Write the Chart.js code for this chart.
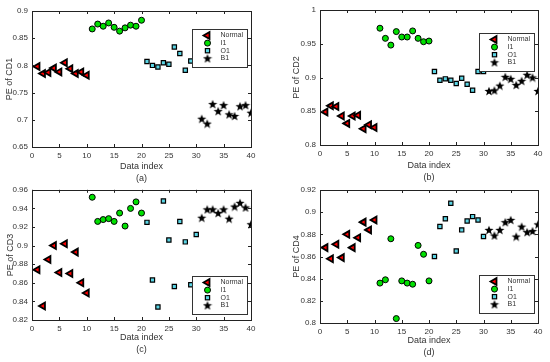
<!DOCTYPE html>
<html>
<head>
<meta charset="utf-8">
<script src="https://cdn.jsdelivr.net/npm/chart.js@4/dist/chart.umd.min.js"></script>
<style>
  body { margin: 0; background: #fff; }
  #wrap { position: relative; width: 550px; height: 362px; overflow: hidden; }
  .panel { position: absolute; }
</style>
</head>
<body>
<div id="wrap">
  <div class="panel" style="left:0;top:0"><canvas id="c1" width="275" height="186"></canvas></div>
  <div class="panel" style="left:275px;top:0"><canvas id="c2" width="275" height="186"></canvas></div>
  <div class="panel" style="left:0;top:181px"><canvas id="c3" width="275" height="181"></canvas></div>
  <div class="panel" style="left:275px;top:181px"><canvas id="c4" width="275" height="181"></canvas></div>
</div>
<script>
// data index for each class
const idxNormal = [1, 2, 3, 4, 5, 6, 7, 8, 9, 10];
const idxI1 = [11, 12, 13, 14, 15, 16, 17, 18, 19, 20];
const idxO1 = [21, 22, 23, 24, 25, 26, 27, 28, 29, 30];
const idxB1 = [31, 32, 33, 34, 35, 36, 37, 38, 39, 40];

const seriesNames = ['Normal', 'I1', 'O1', 'B1'];
const xTicks = [0, 5, 10, 15, 20, 25, 30, 35, 40];

// PE of CD1
const cd1Normal = [0.798, 0.785, 0.787, 0.795, 0.788, 0.805, 0.794, 0.785, 0.788, 0.782];
const cd1I1 = [0.867, 0.876, 0.872, 0.878, 0.870, 0.863, 0.869, 0.874, 0.872, 0.883];
const cd1O1 = [0.807, 0.800, 0.797, 0.805, 0.802, 0.834, 0.822, 0.791, 0.808, 0.810];
const cd1B1 = [0.702, 0.693, 0.729, 0.716, 0.727, 0.710, 0.707, 0.725, 0.727, 0.713];
const cd1Ticks = [0.65, 0.7, 0.75, 0.8, 0.85, 0.9];

// PE of CD2
const cd2Normal = [0.849, 0.858, 0.857, 0.843, 0.832, 0.843, 0.844, 0.824, 0.830, 0.826];
const cd2I1 = [0.973, 0.958, 0.948, 0.968, 0.960, 0.960, 0.969, 0.958, 0.953, 0.954];
const cd2O1 = [0.909, 0.896, 0.898, 0.896, 0.891, 0.899, 0.890, 0.881, 0.909, 0.909];
const cd2B1 = [0.880, 0.881, 0.888, 0.901, 0.898, 0.889, 0.895, 0.904, 0.900, 0.880];
const cd2Ticks = [0.8, 0.85, 0.9, 0.95, 1];

// PE of CD3
const cd3Normal = [0.874, 0.835, 0.885, 0.900, 0.871, 0.902, 0.870, 0.893, 0.860, 0.849];
const cd3I1 = [0.952, 0.926, 0.928, 0.929, 0.926, 0.935, 0.921, 0.940, 0.947, 0.935];
const cd3O1 = [0.925, 0.863, 0.834, 0.948, 0.906, 0.856, 0.926, 0.904, 0.858, 0.912];
const cd3B1 = [0.930, 0.939, 0.939, 0.935, 0.939, 0.929, 0.942, 0.946, 0.941, 0.923];
const cd3Ticks = [0.82, 0.84, 0.86, 0.88, 0.9, 0.92, 0.94, 0.96];

// PE of CD4
const cd4Normal = [0.868, 0.858, 0.871, 0.859, 0.880, 0.868, 0.877, 0.891, 0.884, 0.893];
const cd4I1 = [0.836, 0.839, 0.876, 0.804, 0.838, 0.836, 0.835, 0.870, 0.862, 0.838];
const cd4O1 = [0.860, 0.887, 0.894, 0.908, 0.865, 0.884, 0.892, 0.896, 0.893, 0.878];
const cd4B1 = [0.884, 0.879, 0.884, 0.891, 0.893, 0.878, 0.887, 0.882, 0.883, 0.889];
const cd4Ticks = [0.8, 0.82, 0.84, 0.86, 0.88, 0.9, 0.92];

const FONT = 'Arial, "Liberation Sans", sans-serif';
const TXT = '#333';

function pts(xs, ys) {
  return xs.map((x, i) => ({ x: x, y: ys[i] }));
}

// filled black star, chart.js only has an outline star
function starImage(size) {
  const c = document.createElement('canvas');
  c.width = size; c.height = size;
  const g = c.getContext('2d');
  const cx = size / 2, cy = size / 2 + 0.5;
  const R = size / 2 - 0.2, r = R * 0.42;
  g.beginPath();
  for (let i = 0; i < 10; i++) {
    const rad = i % 2 === 0 ? R : r;
    const a = -Math.PI / 2 + i * Math.PI / 5;
    const px = cx + Math.cos(a) * rad, py = cy + Math.sin(a) * rad;
    if (i === 0) g.moveTo(px, py); else g.lineTo(px, py);
  }
  g.closePath();
  g.fillStyle = '#000';
  g.fill();
  return c;
}
const star = starImage(10);

const markers = [
  { style: 'triangle', rot: -90, r: 4, bw: 1.8, fill: '#ff0000' },
  { style: 'circle', rot: 0, r: 3, bw: 1, fill: '#00e000' },
  { style: 'rect', rot: 0, r: 3, bw: 1.2, fill: '#5ad4e4' },
  { style: star, rot: 0, r: 5, bw: 1, fill: '#000' }
];

function drawMarker(ctx, m, x, y) {
  ctx.save();
  ctx.fillStyle = m.fill;
  ctx.strokeStyle = '#000';
  ctx.lineWidth = m.bw;
  if (m.style === 'triangle') {
    ctx.beginPath();
    ctx.moveTo(x - m.r, y);
    ctx.lineTo(x + m.r * 0.5, y - m.r * 0.87);
    ctx.lineTo(x + m.r * 0.5, y + m.r * 0.87);
    ctx.closePath();
    ctx.fill(); ctx.stroke();
  } else if (m.style === 'circle') {
    ctx.beginPath();
    ctx.arc(x, y, m.r, 0, Math.PI * 2);
    ctx.fill(); ctx.stroke();
  } else if (m.style === 'rect') {
    const s = m.r * Math.SQRT1_2;
    ctx.fillRect(x - s, y - s, 2 * s, 2 * s);
    ctx.strokeRect(x - s, y - s, 2 * s, 2 * s);
  } else {
    ctx.drawImage(m.style, x - m.style.width / 2, y - m.style.height / 2);
  }
  ctx.restore();
}

// matlab style box, inward ticks, legend inside the axes
const boxPlugin = {
  id: 'box',
  afterDatasetsDraw(chart, args, opts) {
    const { ctx, chartArea: a, scales } = chart;
    ctx.save();
    ctx.strokeStyle = '#222';
    ctx.lineWidth = 1;
    ctx.beginPath();
    scales.x.ticks.forEach(t => {
      const px = Math.round(scales.x.getPixelForValue(t.value)) + 0.5;
      ctx.moveTo(px, a.bottom); ctx.lineTo(px, a.bottom - 3);
      ctx.moveTo(px, a.top); ctx.lineTo(px, a.top + 3);
    });
    scales.y.ticks.forEach(t => {
      const py = Math.round(scales.y.getPixelForValue(t.value)) + 0.5;
      ctx.moveTo(a.left, py); ctx.lineTo(a.left + 3, py);
      ctx.moveTo(a.right, py); ctx.lineTo(a.right - 3, py);
    });
    ctx.stroke();
    ctx.strokeRect(Math.round(a.left) + 0.5, Math.round(a.top) + 0.5,
      Math.round(a.right - a.left), Math.round(a.bottom - a.top));

    // legend box
    const w = 55, h = 38;
    const lx = Math.round(a.right - opts.right - w) + 0.5;
    const ly = Math.round(opts.top != null ? a.top + opts.top : a.bottom - opts.bottom - h) + 0.5;
    ctx.fillStyle = '#fff';
    ctx.fillRect(lx, ly, w, h);
    ctx.strokeStyle = '#333';
    ctx.strokeRect(lx, ly, w, h);
    ctx.font = '7px ' + FONT;
    ctx.textBaseline = 'middle';
    seriesNames.forEach((name, i) => {
      const ry = ly + 6 + i * 7.6;
      drawMarker(ctx, markers[i], lx + 15, ry);
      ctx.fillStyle = TXT;
      ctx.fillText(name, lx + 28, ry);
    });
    ctx.restore();
  }
};

const panels = [
  { id: 'c1', data: [cd1Normal, cd1I1, cd1O1, cd1B1], yTicks: cd1Ticks, yTitle: 'PE of CD1', tag: '(a)',
    top: 11, right: 24, yw: 32, xh: 39, yPad: 4, xPad: 1, legend: { right: 4, top: 18 } },
  { id: 'c2', data: [cd2Normal, cd2I1, cd2O1, cd2B1], yTicks: cd2Ticks, yTitle: 'PE of CD2', tag: '(b)',
    top: 10, right: 12, yw: 45, xh: 41, yPad: 16, xPad: 2, legend: { right: 4, top: 23 } },
  { id: 'c3', data: [cd3Normal, cd3I1, cd3O1, cd3B1], yTicks: cd3Ticks, yTitle: 'PE of CD3', tag: '(c)',
    top: 6, right: 24, yw: 32, xh: 42, yPad: 5, xPad: 6, legend: { right: 4, bottom: 6 } },
  { id: 'c4', data: [cd4Normal, cd4I1, cd4O1, cd4B1], yTicks: cd4Ticks, yTitle: 'PE of CD4', tag: '(d)',
    top: 9, right: 12, yw: 45, xh: 39, yPad: 16, xPad: 3, legend: { right: 4, bottom: 10 } }
];

const idx = [idxNormal, idxI1, idxO1, idxB1];

panels.forEach(p => {
  const datasets = p.data.map((ys, i) => ({
    label: seriesNames[i],
    data: pts(idx[i], ys),
    pointStyle: markers[i].style,
    rotation: markers[i].rot,
    pointRadius: markers[i].r,
    backgroundColor: markers[i].fill,
    borderColor: '#000',
    borderWidth: markers[i].bw,
    showLine: false
  }));
  new Chart(document.getElementById(p.id), {
    type: 'scatter',
    data: { datasets: datasets },
    options: {
      responsive: false,
      animation: false,
      devicePixelRatio: 1,
      layout: { padding: { top: p.top, right: p.right, left: 0, bottom: 0 } },
      plugins: {
        legend: { display: false },
        tooltip: { enabled: false },
        box: { right: p.legend.right, top: p.legend.top, bottom: p.legend.bottom }
      },
      scales: {
        x: {
          type: 'linear', min: 0, max: 40,
          afterBuildTicks: s => { s.ticks = xTicks.map(v => ({ value: v })); },
          afterFit: s => { s.height = p.xh; },
          grid: { display: false, drawTicks: false },
          border: { display: false },
          ticks: { padding: 4, color: TXT, font: { family: FONT, size: 8 }, maxRotation: 0, autoSkip: false,
            callback: v => String(v) },
          title: { display: true, text: ['Data index', p.tag], color: TXT,
            font: { family: FONT, size: 9, lineHeight: 1.4 }, padding: { top: 0, bottom: p.xPad } }
        },
        y: {
          type: 'linear', min: p.yTicks[0], max: p.yTicks[p.yTicks.length - 1],
          afterBuildTicks: s => { s.ticks = p.yTicks.map(v => ({ value: v })); },
          afterFit: s => { s.width = p.yw; },
          grid: { display: false, drawTicks: false },
          border: { display: false },
          ticks: { padding: 4, color: TXT, font: { family: FONT, size: 8 }, autoSkip: false,
            callback: v => String(v) },
          title: { display: true, text: p.yTitle, color: TXT,
            font: { family: FONT, size: 9, lineHeight: 1.3 }, padding: { top: p.yPad, bottom: 0 } }
        }
      }
    },
    plugins: [boxPlugin]
  });
});
</script>
</body>
</html>
